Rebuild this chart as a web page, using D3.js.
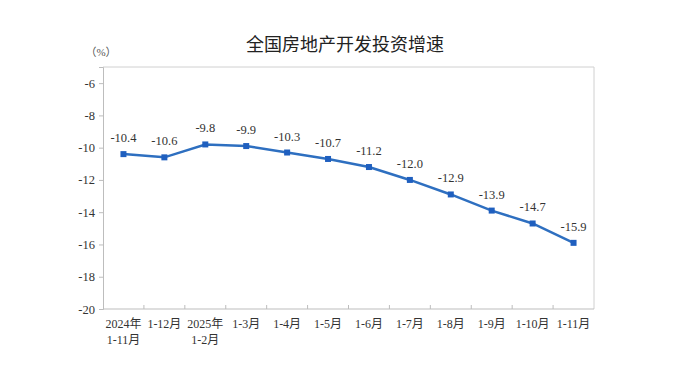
<!DOCTYPE html>
<html>
<head>
<meta charset="utf-8">
<script src="https://cdn.jsdelivr.net/npm/d3@7"></script>
<style>
  body { margin: 0; background: #fff; }
  svg text { font-family: "Liberation Serif", "Noto Sans CJK SC", serif; fill: #333; }
</style>
</head>
<body>
<div id="chart"></div>
<script>
const categories = ["2024年\n1-11月", "1-12月", "2025年\n1-2月", "1-3月", "1-4月", "1-5月", "1-6月", "1-7月", "1-8月", "1-9月", "1-10月", "1-11月"];
const values = [-10.4, -10.6, -9.8, -9.9, -10.3, -10.7, -11.2, -12.0, -12.9, -13.9, -14.7, -15.9];
const yTicks = [-6, -8, -10, -12, -14, -16, -18, -20];

const width = 693, height = 380;
const padding = { left: 103, right: 99, top: 67, bottom: 71 };
const innerW = width - padding.left - padding.right;
const innerH = height - padding.top - padding.bottom;

const svg = d3.select("#chart")
  .append("svg")
  .attr("width", width)
  .attr("height", height);

// title
svg.append("text")
  .attr("x", 345)
  .attr("y", 51)
  .attr("text-anchor", "middle")
  .style("font-family", "'Noto Sans CJK SC', sans-serif")
  .style("font-size", "18px")
  .style("fill", "#222")
  .text("全国房地产开发投资增速");

svg.append("text")
  .attr("x", 101)
  .attr("y", 56)
  .attr("text-anchor", "middle")
  .style("font-size", "11px")
  .style("fill", "#555")
  .text("（%）");

const xScale = d3.scaleBand()
  .domain(categories)
  .range([0, innerW])
  .padding(0);

const yScale = d3.scaleLinear()
  .domain([-20, -5])
  .range([innerH, 0]);

const g = svg.append("g")
  .attr("transform", `translate(${padding.left},${padding.top})`);

// frame (top + right)
g.append("path")
  .attr("d", `M0,0H${innerW}V${innerH}`)
  .attr("fill", "none")
  .attr("stroke", "#d0d0d0")
  .attr("stroke-width", 1);

// yAxis
const yAxis = d3.axisLeft(yScale)
  .tickValues(yTicks)
  .tickFormat(d => String(d))
  .tickSize(4)
  .tickPadding(4);

const yG = g.append("g").call(yAxis);
yG.select(".domain").attr("stroke", "#bdbdbd");
yG.selectAll(".tick line").attr("stroke", "#bdbdbd");
yG.selectAll(".tick text")
  .style("font-size", "12.5px")
  .style("fill", "#333");

// xAxis
const boundaries = categories.slice(1).map(c => xScale(c));
const xG = g.append("g").attr("transform", `translate(0,${innerH})`);
xG.append("line")
  .attr("x1", 0).attr("x2", innerW)
  .attr("stroke", "#bdbdbd");
xG.selectAll(".tk")
  .data(boundaries)
  .enter()
  .append("line")
  .attr("x1", d => d).attr("x2", d => d)
  .attr("y1", 0).attr("y2", -4)
  .attr("stroke", "#bdbdbd");

xG.selectAll(".xl")
  .data(categories)
  .enter()
  .append("text")
  .attr("text-anchor", "middle")
  .attr("x", d => xScale(d) + xScale.bandwidth() / 2)
  .style("font-size", "12px")
  .style("fill", "#333")
  .each(function (d) {
    d.split("\n").forEach((line, i) => {
      d3.select(this).append("tspan")
        .attr("x", xScale(d) + xScale.bandwidth() / 2)
        .attr("y", 19 + i * 16)
        .text(line);
    });
  });

// line
const pts = categories.map((c, i) => ({ c, v: values[i] }));
const line = d3.line()
  .x(d => xScale(d.c) + xScale.bandwidth() / 2)
  .y(d => yScale(d.v));

g.append("path")
  .datum(pts)
  .attr("d", line)
  .attr("fill", "none")
  .attr("stroke", "#2e6fc0")
  .attr("stroke-width", 2.5);

g.selectAll(".mk")
  .data(pts)
  .enter()
  .append("rect")
  .attr("x", d => xScale(d.c) + xScale.bandwidth() / 2 - 3)
  .attr("y", d => yScale(d.v) - 3)
  .attr("width", 6)
  .attr("height", 6)
  .attr("fill", "#1f5fbf");

g.selectAll(".lb")
  .data(pts)
  .enter()
  .append("text")
  .attr("text-anchor", "middle")
  .attr("x", d => xScale(d.c) + xScale.bandwidth() / 2)
  .attr("y", d => yScale(d.v) - 12)
  .style("font-size", "12.5px")
  .style("fill", "#333")
  .text(d => d.v.toFixed(1));
</script>
</body>
</html>
